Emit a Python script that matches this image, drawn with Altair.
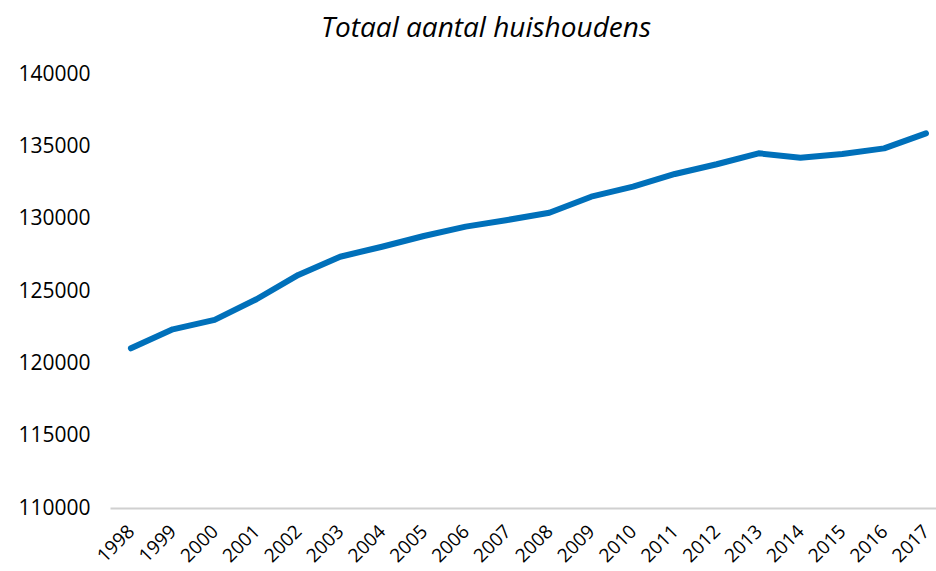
import altair as alt
import pandas as pd

# Total number of households per year
years = [1998, 1999, 2000, 2001, 2002, 2003, 2004, 2005, 2006, 2007,
         2008, 2009, 2010, 2011, 2012, 2013, 2014, 2015, 2016, 2017]
households = [121040, 122350, 123000, 124430, 126110, 127370, 128060, 128800,
              129450, 129910, 130410, 131520, 132210, 133090, 133760, 134520,
              134210, 134470, 134860, 135900]
y_ticks = [110000, 115000, 120000, 125000, 130000, 135000, 140000]

df = pd.DataFrame({"jaar": years, "huishoudens": households})

FONT = "Open Sans"

chart = (
    alt.Chart(df)
    .mark_line(color="#0070BA", strokeWidth=6, strokeCap="round", strokeJoin="round")
    .encode(
        x=alt.X(
            "jaar:Q",
            scale=alt.Scale(domain=[1997.5, 2017.24], nice=False, zero=False),
            axis=alt.Axis(
                values=years,
                format="d",
                title=None,
                grid=False,
                ticks=False,
                domain=True,
                domainColor="#D0D0D0",
                domainWidth=2,
                labelAngle=-45,
                labelAlign="right",
                labelBaseline="middle",
                labelPadding=20,
                labelFont=FONT,
                labelFontSize=19,
                labelColor="#000000",
                labelOverlap=False,
                labelFlush=False,
            ),
        ),
        y=alt.Y(
            "huishoudens:Q",
            scale=alt.Scale(domain=[110000, 140000], nice=False, zero=False),
            axis=alt.Axis(
                values=y_ticks,
                format="d",
                title=None,
                grid=False,
                ticks=False,
                domain=False,
                labelPadding=20,
                labelFont=FONT,
                labelFontSize=21,
                labelColor="#000000",
            ),
        ),
    )
    .properties(
        width=826,
        height=434,
        title=alt.TitleParams(
            "Totaal aantal huishoudens",
            font=FONT,
            fontSize=28,
            fontStyle="italic",
            fontWeight="normal",
            color="#000000",
            anchor="middle",
            dx=-37,
            offset=20,
        ),
        autosize=alt.AutoSizeParams(type="none"),
        padding={"left": 110, "top": 74, "right": 0, "bottom": 63},
    )
    .configure(background="#FFFFFF")
    .configure_view(strokeWidth=0, stroke="transparent")
)

chart.save("out.html", embed_options={"renderer": "svg", "actions": False})
